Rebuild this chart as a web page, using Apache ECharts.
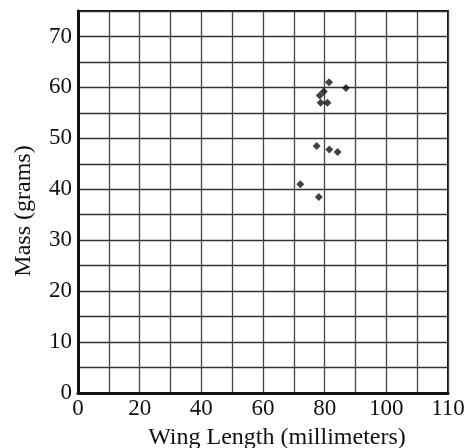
<!DOCTYPE html>
<html>
<head>
<meta charset="utf-8">
<script src="https://cdn.jsdelivr.net/npm/echarts@6/dist/echarts.min.js"></script>
<style>
    html, body { margin: 0; padding: 0; background: #fff; }
    #chart { width: 464px; height: 448px; }
</style>
</head>
<body>
<div id="chart"></div>
<script>
    // points (x on the drawn grid scale, y in grams)
    var wingLength = [81.4, 86.9, 79.7, 78.4, 78.7, 80.9, 77.4, 81.5, 84.2, 72.1, 78.1];
    var mass = [61.0, 59.9, 59.2, 58.4, 57.0, 57.0, 48.5, 47.8, 47.3, 41.0, 38.5];

    // tick labels as printed (the last x label reads 110 at the 12th gridline)
    var xTickValues = [0, 20, 40, 60, 80, 100, 120];
    var xTickLabels = ['0', '20', '40', '60', '80', '100', '110'];
    var yTickLabels = ['0', '10', '20', '30', '40', '50', '60', '70'];

    var points = wingLength.map(function (x, i) { return [x, mass[i]]; });

    var chart = echarts.init(document.getElementById('chart'));
    var font = '"Liberation Serif", "DejaVu Serif", serif';

    chart.setOption({
        animation: false,
        grid: {
            left: 78, right: 16, top: 11, bottom: 55,
            outerBoundsMode: 'none',
            show: true, borderColor: '#111', borderWidth: 2
        },
        xAxis: {
            type: 'value',
            min: 0, max: 120, interval: 10,
            name: 'Wing Length (millimeters)',
            nameLocation: 'middle',
            nameGap: 33,
            nameTextStyle: { fontFamily: font, fontSize: 24, color: '#111', padding: [0, 0, 0, 28] },
            axisLine: { show: true, onZero: false, lineStyle: { color: '#111', width: 3 } },
            axisTick: { show: false },
            axisLabel: {
                fontFamily: font, fontSize: 23, color: '#111', margin: 4,
                formatter: function (v) {
                    var i = xTickValues.indexOf(v);
                    return i >= 0 ? xTickLabels[i] : '';
                }
            },
            splitLine: { show: true, lineStyle: { color: '#444', width: 1.3 } }
        },
        yAxis: {
            type: 'value',
            min: 0, max: 75, interval: 5,
            name: 'Mass (grams)',
            nameLocation: 'middle',
            nameGap: 42,
            nameTextStyle: { fontFamily: font, fontSize: 24, color: '#111', padding: [0, 18, 0, 0] },
            axisLine: { show: true, onZero: false, lineStyle: { color: '#111', width: 3 } },
            axisTick: { show: false },
            axisLabel: {
                fontFamily: font, fontSize: 23, color: '#111', margin: 6,
                formatter: function (v) {
                    var s = String(v);
                    return yTickLabels.indexOf(s) >= 0 ? s : '';
                }
            },
            splitLine: { show: true, lineStyle: { color: '#333', width: 1.3 } }
        },
        series: [{
            type: 'scatter',
            data: points,
            symbol: 'diamond',
            symbolSize: 8,
            itemStyle: { color: '#111' }
        }]
    });
</script>
</body>
</html>
